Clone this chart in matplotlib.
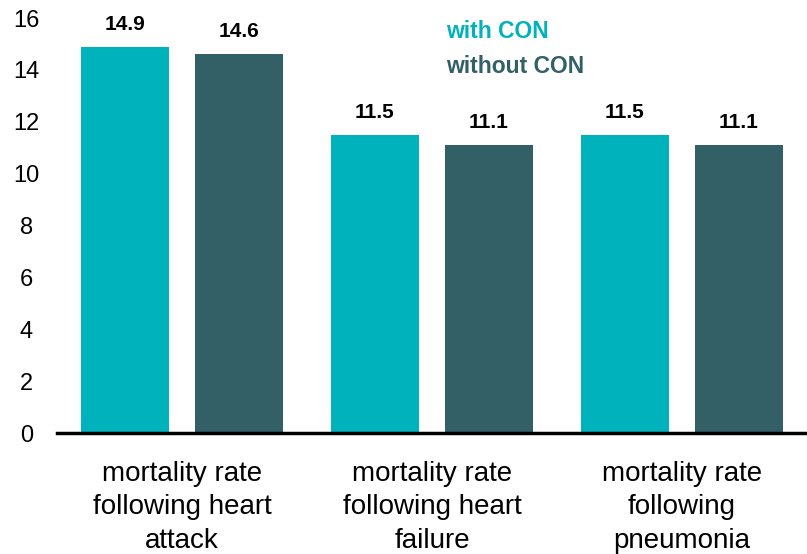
import numpy as np
import matplotlib
matplotlib.use('Agg')
import matplotlib.pyplot as plt

categories = ['mortality rate\nfollowing heart\nattack',
              'mortality rate\nfollowing heart\nfailure',
              'mortality rate\nfollowing\npneumonia']
with_con = [14.9, 11.5, 11.5]
without_con = [14.6, 11.1, 11.1]
series_names = ['with CON', 'without CON']

cyan = '#00B2BB'
dark = '#336066'

plt.rcParams['font.family'] = ['Liberation Sans', 'DejaVu Sans']

fig = plt.figure(figsize=(8.07, 5.54), dpi=100)
ax = fig.add_axes([0.0706, 0.2184, 0.9294, 0.7491])

x = np.arange(len(categories))
w = 0.355
off = 0.228
b1 = ax.bar(x - off, with_con, w, color=cyan)
b2 = ax.bar(x + off, without_con, w, color=dark)

# value labels above bars
for bars, vals in ((b1, with_con), (b2, without_con)):
    for b, v in zip(bars, vals):
        ax.text(b.get_x() + b.get_width() / 2, v + 0.5, f'{v}', ha='center', va='bottom',
                fontsize=15, fontweight='bold', color='black')

ax.set_xlim(-0.5, 2.5)
ax.set_ylim(0, 16)
ax.set_yticks(range(0, 17, 2))
ax.set_xticks(x)
ax.set_xticklabels(categories, fontsize=20, linespacing=1.38)
ax.tick_params(axis='both', length=0)
ax.tick_params(axis='y', labelsize=17, pad=22)
ax.tick_params(axis='x', pad=20)
for lbl in ax.get_yticklabels():
    lbl.set_horizontalalignment('center')

for s in ['top', 'right', 'left']:
    ax.spines[s].set_visible(False)
ax.spines['bottom'].set_linewidth(2.5)
ax.spines['bottom'].set_color('black')

fig.text(446 / 807, 1 - 32 / 554, series_names[0], color=cyan, fontsize=16.5,
         fontweight='bold', va='center', ha='left')
fig.text(446 / 807, 1 - 67 / 554, series_names[1], color=dark, fontsize=16.5,
         fontweight='bold', va='center', ha='left')

fig.savefig('out.png', dpi=100)
